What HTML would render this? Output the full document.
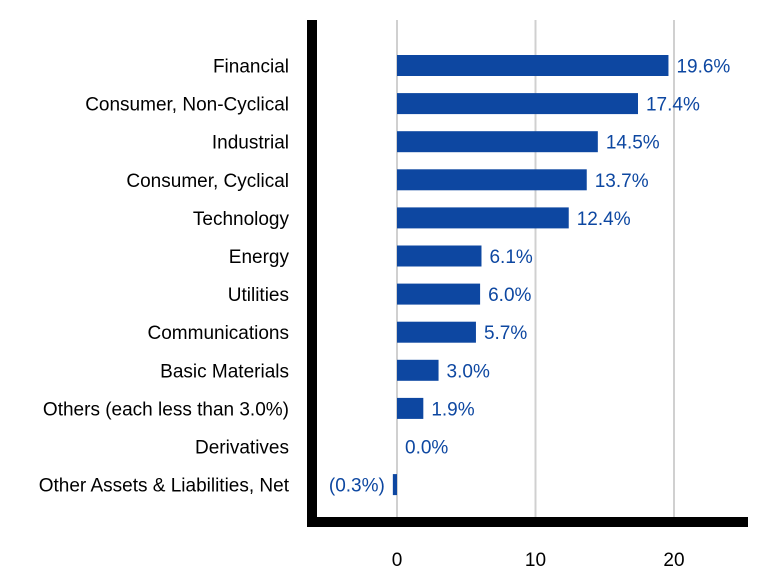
<!DOCTYPE html>
<html><head><meta charset="utf-8"><style>
body{margin:0;background:#fff;}
svg{display:block;font-family:"Liberation Sans",Arial,sans-serif;}
</style></head><body>
<svg id="chart" width="780" height="588"></svg>
<script>
const categories=["Financial","Consumer, Non-Cyclical","Industrial","Consumer, Cyclical","Technology","Energy","Utilities","Communications","Basic Materials","Others (each less than 3.0%)","Derivatives","Other Assets & Liabilities, Net"];
const values=[19.6,17.4,14.5,13.7,12.4,6.1,6.0,5.7,3.0,1.9,0.0,-0.3];
const valueLabels=["19.6%","17.4%","14.5%","13.7%","12.4%","6.1%","6.0%","5.7%","3.0%","1.9%","0.0%","(0.3%)"];
const ticks=[0,10,20];
const NS="http://www.w3.org/2000/svg";
const svg=document.getElementById('chart');
const x=v=>397+v*13.85;
const y=i=>65.5+i*38.1;
function mk(t,a,p){const e=document.createElementNS(NS,t);for(const k in a)e.setAttribute(k,a[k]);(p||svg).appendChild(e);return e;}
ticks.forEach(t=>{
 const g=mk('line',{x1:x(t),x2:x(t),y1:20,y2:517,stroke:'#d0d0d0','stroke-width':2});
 
 
 const tl=mk('text',{x:x(t),y:566,'text-anchor':'middle','font-size':19,fill:'#000'});
 tl.textContent=t;
 
 
});
categories.forEach((c,i)=>{
 const cl=mk('text',{x:289,y:y(i)+7,'text-anchor':'end','font-size':19,fill:'#000'});
 cl.textContent=c;
 
 
 const v=values[i];
 const x0=Math.min(x(0),x(v)), w=Math.abs(x(v)-x(0));
 if(w>0){
  const b=mk('rect',{x:x0,y:y(i)-10.5,width:w,height:21,fill:'#0d47a1'});
  
  
 }
 const neg=v<0;
 const vl=mk('text',{x:neg?x(v)-8:x(Math.max(v,0))+8,y:y(i)+7,'text-anchor':neg?'end':'start','font-size':19,fill:'#0d47a1'});
 vl.textContent=valueLabels[i];
 
 
});
const ax=mk('rect',{x:307,y:20,width:10,height:507,fill:'#000'});


const bx=mk('rect',{x:307,y:517,width:441,height:10,fill:'#000'});


</script>
</body></html>
